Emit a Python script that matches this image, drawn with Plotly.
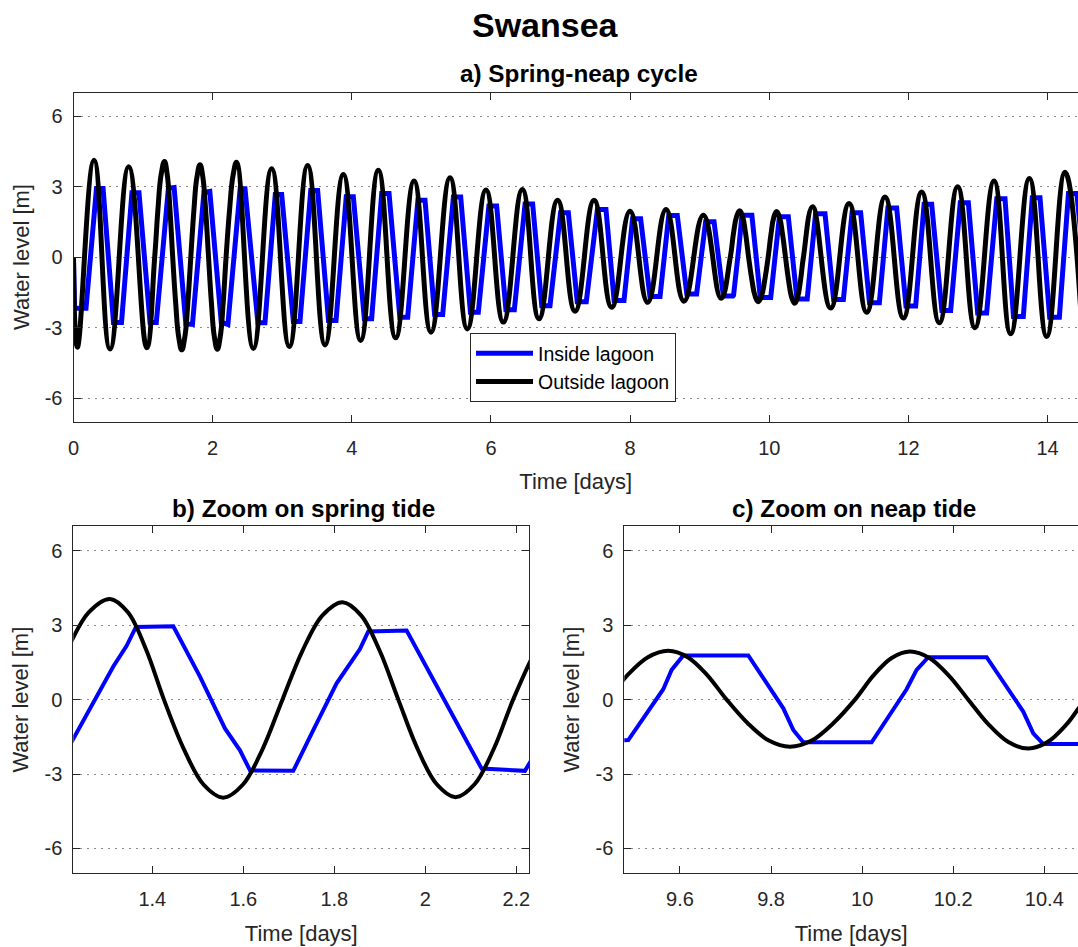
import plotly.graph_objects as go

# ---------------------------------------------------------------------------
# Water levels at Swansea: lagoon interior vs open sea (time in days, level in m)
# ---------------------------------------------------------------------------
inside_days = [
    0.000, 0.015, 0.180, 0.330, 0.425, 0.575, 0.690, 0.840, 0.941, 1.100,
    1.190, 1.2264, 1.3143, 1.3436, 1.3641, 1.4462, 1.5048, 1.5597, 1.5927, 1.6147,
    1.7099, 1.7538, 1.8051, 1.8564, 1.8747, 1.9590, 2.0103, 2.0652, 2.1018, 2.1238,
    2.2190, 2.2286, 2.395, 2.465, 2.650, 2.752, 2.900, 2.992, 3.160, 3.255,
    3.410, 3.509, 3.665, 3.773, 3.920, 4.022, 4.180, 4.285, 4.430, 4.535,
    4.690, 4.803, 4.950, 5.052, 5.190, 5.306, 5.460, 5.565, 5.705, 5.818,
    5.970, 6.082, 6.215, 6.336, 6.490, 6.599, 6.730, 6.848, 7.000, 7.112,
    7.240, 7.370, 7.530, 7.653, 7.770, 7.912, 8.035, 8.151, 8.285, 8.430,
    8.555, 8.678, 8.815, 8.956, 9.085, 9.206, 9.340, 9.4778, 9.4866, 9.5634,
    9.5817, 9.6073, 9.7500, 9.8269, 9.8488, 9.8708, 10.0208, 10.0976, 10.1196, 10.1452,
    10.2733, 10.3537, 10.3757, 10.3977, 10.545, 10.665, 10.801, 10.925, 11.065, 11.190,
    11.313, 11.440, 11.582, 11.705, 11.831, 11.965, 12.104, 12.225, 12.334, 12.480,
    12.607, 12.745, 12.861, 12.995, 13.124, 13.270, 13.388, 13.510, 13.651, 13.780,
    13.891, 14.030, 14.169, 14.300, 14.420, 14.600,
]
inside_level = [
    0.00, -2.18, -2.18, 2.92, 2.92, -2.79, -2.79, 2.73, 2.73, -2.79,
    -2.79, -1.57, 1.34, 2.17, 2.93, 2.96, 0.93, -1.16, -2.04, -2.85,
    -2.87, -1.23, 0.66, 2.04, 2.75, 2.79, 1.07, -0.82, -1.97, -2.78,
    -2.87, -2.58, 2.90, 2.90, -2.80, -2.80, 2.66, 2.66, -2.75, -2.75,
    2.83, 2.83, -2.70, -2.70, 2.56, 2.56, -2.63, -2.63, 2.70, 2.70,
    -2.56, -2.56, 2.42, 2.42, -2.45, -2.45, 2.55, 2.55, -2.35, -2.35,
    2.17, 2.17, -2.24, -2.24, 2.26, 2.26, -2.07, -2.07, 1.88, 1.88,
    -1.90, -1.90, 2.02, 2.02, -1.85, -1.85, 1.63, 1.63, -1.68, -1.68,
    1.77, 1.77, -1.57, -1.57, 1.50, 1.50, -1.66, -1.66, -1.63, 0.42,
    1.20, 1.78, 1.78, -0.35, -1.22, -1.72, -1.72, 0.42, 1.20, 1.71,
    1.71, -0.48, -1.36, -1.79, -1.79, 1.84, 1.84, -1.81, -1.81, 1.88,
    1.88, -1.95, -1.95, 2.08, 2.08, -2.09, -2.09, 2.24, 2.24, -2.28,
    -2.28, 2.31, 2.31, -2.38, -2.38, 2.48, 2.48, -2.53, -2.53, 2.52,
    2.52, -2.56, -2.56, 2.70, 2.70, -2.60,
]

outside_days = [
    0.000, 0.055, 0.295, 0.525, 0.793, 1.052, 1.167, 1.2137, 1.2603, 1.307,
    1.3465, 1.3861, 1.4256, 1.4691, 1.5125, 1.556, 1.5993, 1.6427, 1.686, 1.730,
    1.774, 1.818, 1.8589, 1.8998, 1.9407, 1.9827, 2.0247, 2.0667, 2.1088, 2.1509,
    2.193, 2.2437, 2.2943, 2.345, 2.585, 2.848, 3.102, 3.365, 3.615, 3.878,
    4.127, 4.381, 4.630, 4.894, 5.138, 5.411, 5.660, 5.928, 6.178, 6.451,
    6.690, 6.958, 7.208, 7.481, 7.735, 7.998, 8.252, 8.516, 8.774, 9.052,
    9.306, 9.440, 9.4848, 9.5296, 9.5744, 9.6171, 9.6598, 9.7025, 9.7488, 9.7952,
    9.8415, 9.8891, 9.9366, 9.9842, 10.0245, 10.0647, 10.105, 10.1477, 10.1903, 10.233,
    10.277, 10.321, 10.365, 10.407, 10.449, 10.491, 10.623, 10.882, 11.146, 11.400,
    11.663, 11.927, 12.190, 12.444, 12.707, 12.956, 13.230, 13.469, 13.738, 13.987,
    14.250, 14.500,
]
outside_level = [
    0.00, -3.84, 4.12, -3.92, 3.84, -3.86, 0.00, 2.03, 3.52, 4.06,
    3.52, 2.03, 0.00, -1.98, -3.42, -3.95, -3.42, -1.98, 0.00, 1.97,
    3.40, 3.93, 3.40, 1.97, 0.00, -1.97, -3.40, -3.93, -3.40, -1.97,
    0.00, 2.02, 3.49, 4.03, -3.89, 3.75, -3.81, 3.89, -3.74, 3.51,
    -3.55, 3.69, -3.44, 3.23, -3.20, 3.37, -3.06, 2.85, -2.77, 2.87,
    -2.63, 2.42, -2.31, 2.41, -2.14, 1.95, -1.93, 2.02, -1.88, 1.78,
    -1.76, 0.00, 0.99, 1.71, 1.97, 1.71, 0.99, 0.00, -0.95, -1.65,
    -1.90, -1.65, -0.95, 0.00, 0.97, 1.68, 1.94, 1.68, 0.97, 0.00,
    -0.99, -1.71, -1.97, -1.71, -0.99, 0.00, 2.14, -2.17, 2.28, -2.35,
    2.55, -2.60, 2.77, -2.80, 2.99, -3.01, 3.23, -3.27, 3.34, -3.38,
    3.61, -3.45,
]

level_ticks = [-6, -3, 0, 3, 6]
level_tick_text = ["-6", "-3", "0", "3", "6"]
cycle_ticks = [0, 2, 4, 6, 8, 10, 12, 14]
spring_ticks = [1.4, 1.6, 1.8, 2.0, 2.2]
spring_tick_text = ["1.4", "1.6", "1.8", "2", "2.2"]
neap_ticks = [9.6, 9.8, 10.0, 10.2, 10.4]
neap_tick_text = ["9.6", "9.8", "10", "10.2", "10.4"]

cycle_range = [0.0, 14.437]
spring_range = [1.2264, 2.2286]
neap_range = [9.4778, 10.4739]

FONT = "Liberation Sans, Arial, Helvetica, sans-serif"
INK = "#262626"
W, H = 1078, 947

fig = go.Figure()

# (x axis, y axis, line width, spline smoothing, in legend)
panels = [("x", "y", 5, 1.3, True), ("x2", "y2", 4, 1.0, False),
          ("x3", "y3", 4, 1.0, False)]
for xa, ya, lw, smooth, show in panels:
    fig.add_trace(go.Scatter(
        x=inside_days, y=inside_level, mode="lines", name="Inside lagoon",
        line=dict(color="#0000ff", width=lw), xaxis=xa, yaxis=ya,
        showlegend=show, hoverinfo="skip"))
    fig.add_trace(go.Scatter(
        x=outside_days, y=outside_level, mode="lines", name="Outside lagoon",
        line=dict(color="#000000", width=lw, shape="spline", smoothing=smooth),
        xaxis=xa, yaxis=ya, showlegend=show, hoverinfo="skip"))


def px_x(a, b):
    return [a / W, min(b / W, 1.0)]


def px_y(top, bottom):
    return [1 - bottom / H, 1 - top / H]


def x_axis(domain, rng, tickvals, ticktext, anchor):
    return dict(
        domain=domain, range=rng, anchor=anchor, automargin=False,
        tickmode="array", tickvals=tickvals, ticktext=ticktext,
        ticks="inside", ticklen=7, tickwidth=1, tickcolor=INK,
        showline=True, linecolor=INK, linewidth=1, mirror="ticks",
        showgrid=False, zeroline=False, ticklabelstandoff=8,
        tickfont=dict(family=FONT, size=20, color=INK),
        title=dict(text="Time [days]", standoff=16,
                   font=dict(family=FONT, size=22, color=INK)),
    )


def y_axis(domain, anchor, mirror):
    return dict(
        domain=domain, range=[-7, 7], anchor=anchor, automargin=False,
        tickmode="array", tickvals=level_ticks, ticktext=level_tick_text,
        ticks="inside", ticklen=7, tickwidth=1, tickcolor=INK,
        showline=True, linecolor=INK, linewidth=1, mirror=mirror,
        showgrid=True, gridcolor="#8a8a8a", gridwidth=1, griddash="2px,5px",
        zeroline=False, ticklabelstandoff=6,
        tickfont=dict(family=FONT, size=20, color=INK),
        title=dict(text="Water level [m]", standoff=9,
                   font=dict(family=FONT, size=22, color=INK)),
    )


top_dom = px_y(92.5, 421.5)
low_dom = px_y(526.0, 873.3)

fig.update_layout(
    width=W, height=H,
    margin=dict(l=0, r=0, t=0, b=0, autoexpand=False),
    paper_bgcolor="white", plot_bgcolor="white",
    font=dict(family=FONT, color=INK),
    xaxis=x_axis(px_x(73.5, 1078), cycle_range, cycle_ticks,
                 [str(v) for v in cycle_ticks], "y"),
    yaxis=y_axis(top_dom, "x", False),
    xaxis2=x_axis(px_x(73.3, 529.3), spring_range, spring_ticks,
                  spring_tick_text, "y2"),
    yaxis2=y_axis(low_dom, "x2", "ticks"),
    xaxis3=x_axis(px_x(624.3, 1078), neap_range, neap_ticks,
                  neap_tick_text, "y3"),
    yaxis3=y_axis(low_dom, "x3", False),
    legend=dict(
        x=470 / W, y=1 - 333 / H, xanchor="left", yanchor="top",
        bgcolor="white", bordercolor=INK, borderwidth=1,
        font=dict(family=FONT, size=19.5, color="black"),
        itemwidth=57, tracegroupgap=0,
    ),
    showlegend=True,
)

titles = [
    ("<b>Swansea</b>", 546, 25, 34),
    ("<b>a) Spring-neap cycle</b>", 579, 74, 24.3),
    ("<b>b) Zoom on spring tide</b>", 303, 508, 24.3),
    ("<b>c) Zoom on neap tide</b>", 854, 508, 24.3),
]
for text, cx, cy, size in titles:
    fig.add_annotation(
        text=text, x=cx / W, y=1 - cy / H, xref="paper", yref="paper",
        xanchor="center", yanchor="middle", showarrow=False,
        font=dict(family=FONT, size=size, color="black"))

fig.write_html("out.html")
